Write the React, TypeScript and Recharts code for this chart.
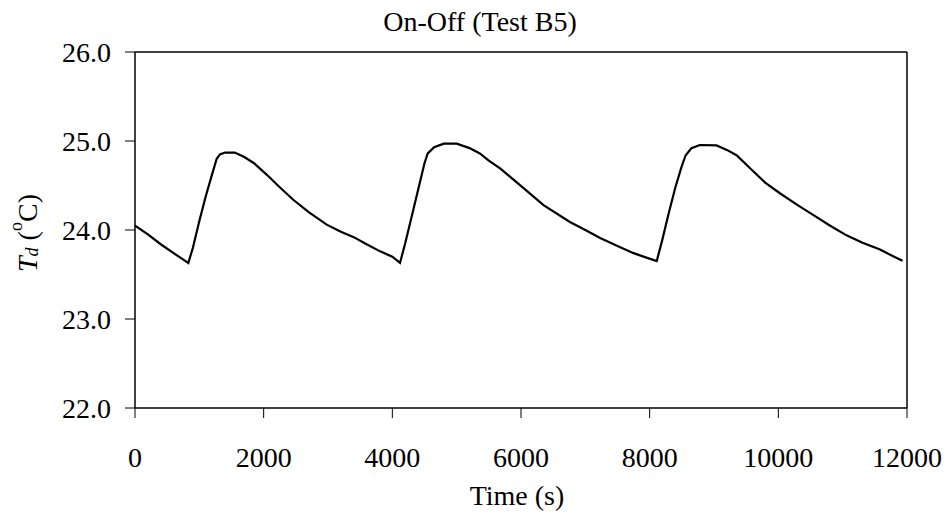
import React from "react";
import { LineChart, Line, XAxis, YAxis, ReferenceLine, Customized } from "recharts";

const timeSeconds = [
  0, 200, 400, 600, 829, 900, 1000, 1100, 1200, 1270, 1320, 1400, 1550, 1700, 1850, 2050, 2250, 2460, 2700, 2980,
  3200, 3400, 3600, 3810, 4000, 4119,
  4200, 4300, 4400, 4500, 4550, 4650, 4800, 5000, 5200, 5360, 5500, 5680, 5860, 6040, 6350, 6760, 7000, 7230, 7500,
  7750, 7950, 8110,
  8200, 8300, 8400, 8500, 8560, 8650, 8780, 9040, 9200, 9350, 9610, 9800, 10030, 10300, 10540, 10800, 11060, 11300,
  11580, 11800, 11930,
];
const tempTd = [
  24.05, 23.95, 23.84, 23.74, 23.63, 23.8, 24.1, 24.38, 24.63, 24.8, 24.85, 24.87, 24.87, 24.82, 24.75, 24.62, 24.48,
  24.34, 24.2, 24.06, 23.98, 23.92, 23.84, 23.76, 23.7, 23.63,
  23.85, 24.15, 24.45, 24.75, 24.86, 24.93, 24.97, 24.97, 24.92, 24.86, 24.78, 24.69, 24.58, 24.47, 24.28, 24.09, 24.0,
  23.91, 23.82, 23.74, 23.69, 23.65,
  23.9, 24.2, 24.48, 24.72, 24.84, 24.92, 24.955, 24.95, 24.9, 24.84, 24.66, 24.53, 24.41, 24.28, 24.17, 24.05, 23.94,
  23.86, 23.78, 23.7, 23.655,
];
const xTicks = [0, 2000, 4000, 6000, 8000, 10000, 12000];
const yTicks = [22, 23, 24, 25, 26];
const titleText = "On-Off (Test B5)";
const xLabelText = "Time (s)";

const data = timeSeconds.map((t, i) => ({ t, v: tempTd[i] }));

const FONT = "'Liberation Serif', 'Times New Roman', serif";

const YLabel = () => {
  const cx = 27;
  const cy = 233;
  return (
    <text
      x={cx}
      y={cy}
      transform={`rotate(-90, ${cx}, ${cy})`}
      textAnchor="middle"
      dominantBaseline="central"
      fontFamily={FONT}
      fontSize={28}
      fill="#000"
      style={{ fill: "#000" }}
    >
      <tspan fontStyle="italic">T</tspan>
      <tspan fontStyle="italic" fontSize={18} dy={5}>d</tspan>
      <tspan dy={-5}>{"\u00a0("}</tspan>
      <tspan fontSize={18} dy={-11}>o</tspan>
      <tspan dy={11}>C)</tspan>
    </text>
  );
};

const Title = () => (
  <g>
    <text x={480} y={31} textAnchor="middle" fontFamily={FONT} fontSize={28} fill="#000">
      {titleText}
    </text>
    <text x={517} y={505} textAnchor="middle" fontFamily={FONT} fontSize={28} fill="#000">
      {xLabelText}
    </text>
  </g>
);

export default function App() {
  return (
    <div style={{ position: "absolute", left: 0, top: 0, width: 951, height: 524, background: "#fff" }}>
      <LineChart width={951} height={524} data={data} margin={{ top: 52, right: 44, bottom: 0, left: 0 }}>
        <XAxis
          dataKey="t"
          type="number"
          domain={[0, 12000]}
          ticks={xTicks}
          height={116}
          tickSize={10}
          tickMargin={29}
          stroke="#000"
          axisLine={{ stroke: "#000", strokeWidth: 1.5 }}
          tickLine={{ stroke: "#000" }}
          tick={{ fill: "#000", fontFamily: FONT, fontSize: 28 }}
          interval={0}
        />
        <YAxis
          type="number"
          domain={[22, 26]}
          ticks={yTicks}
          width={135}
          tickSize={10}
          tickMargin={14}
          stroke="#000"
          axisLine={{ stroke: "#000", strokeWidth: 1.5 }}
          tickLine={{ stroke: "#000" }}
          tick={{ fill: "#000", fontFamily: FONT, fontSize: 28 }}
          tickFormatter={(v: number) => v.toFixed(1)}
          interval={0}
          label={{ content: YLabel }}
        />
        <ReferenceLine y={26} stroke="#000" strokeWidth={1.5} />
        <ReferenceLine x={12000} stroke="#000" strokeWidth={1.5} />
        <Line
          type="linear"
          dataKey="v"
          stroke="#000"
          strokeWidth={2.2}
          dot={false}
          isAnimationActive={false}
        />
        <Customized component={Title} />
      </LineChart>
    </div>
  );
}
